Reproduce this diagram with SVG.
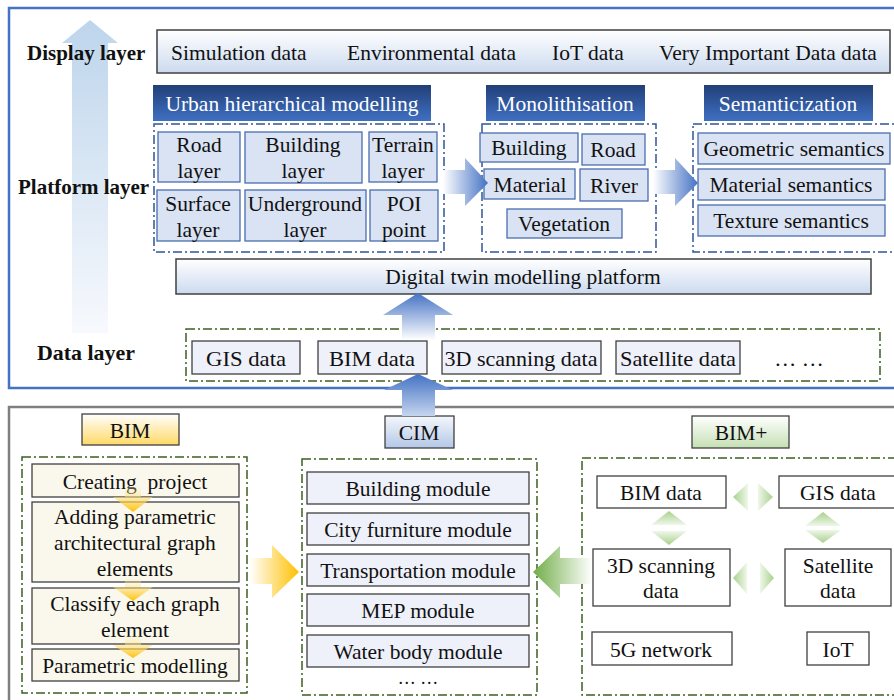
<svg xmlns="http://www.w3.org/2000/svg" width="894" height="700" viewBox="0 0 894 700">
  <defs>
    <linearGradient id="gBigUp" x1="0" y1="0" x2="0" y2="1">
      <stop offset="0" stop-color="#BDD5EC"/>
      <stop offset="1" stop-color="#F7F9FD"/>
    </linearGradient>
    <linearGradient id="gBar" x1="0" y1="0" x2="0" y2="1">
      <stop offset="0" stop-color="#FFFFFF"/>
      <stop offset="1" stop-color="#CCDAEF"/>
    </linearGradient>
    <linearGradient id="gBanner" x1="0" y1="0" x2="0" y2="1">
      <stop offset="0" stop-color="#213F78"/>
      <stop offset="1" stop-color="#4070C2"/>
    </linearGradient>
    <linearGradient id="gRight" x1="0" y1="0" x2="1" y2="0">
      <stop offset="0" stop-color="#FFFFFF"/>
      <stop offset="1" stop-color="#4472C4"/>
    </linearGradient>
    <linearGradient id="gUp" x1="0" y1="0" x2="0" y2="1">
      <stop offset="0" stop-color="#4472C4"/>
      <stop offset="1" stop-color="#FFFFFF"/>
    </linearGradient>
    <linearGradient id="gUp2" x1="0" y1="0" x2="0" y2="1">
      <stop offset="0" stop-color="#4472C4"/>
      <stop offset="1" stop-color="#C5D5EE"/>
    </linearGradient>
    <linearGradient id="gBim" x1="0" y1="0" x2="0" y2="1">
      <stop offset="0" stop-color="#FFFFFF"/>
      <stop offset="1" stop-color="#FFD966"/>
    </linearGradient>
    <linearGradient id="gCim" x1="0" y1="0" x2="0" y2="1">
      <stop offset="0" stop-color="#F4F7FC"/>
      <stop offset="1" stop-color="#B4C7E7"/>
    </linearGradient>
    <linearGradient id="gBimPlus" x1="0" y1="0" x2="0" y2="1">
      <stop offset="0" stop-color="#FFFFFF"/>
      <stop offset="1" stop-color="#C5E0B4"/>
    </linearGradient>
    <linearGradient id="gYellowRight" x1="0" y1="0" x2="1" y2="0">
      <stop offset="0" stop-color="#FFFFFF"/>
      <stop offset="1" stop-color="#FFC000"/>
    </linearGradient>
    <linearGradient id="gYellowDown" x1="0" y1="0" x2="0" y2="1">
      <stop offset="0" stop-color="#FFF2CC" stop-opacity="0.2"/>
      <stop offset="1" stop-color="#FFC000"/>
    </linearGradient>
    <linearGradient id="gGreenLeft" x1="0" y1="0" x2="1" y2="0">
      <stop offset="0" stop-color="#70AD47"/>
      <stop offset="1" stop-color="#FFFFFF"/>
    </linearGradient>
    <linearGradient id="gChevL" x1="0" y1="0" x2="1" y2="0">
      <stop offset="0" stop-color="#A9D18E"/>
      <stop offset="1" stop-color="#EFF7EA"/>
    </linearGradient>
    <linearGradient id="gChevR" x1="1" y1="0" x2="0" y2="0">
      <stop offset="0" stop-color="#A9D18E"/>
      <stop offset="1" stop-color="#EFF7EA"/>
    </linearGradient>
    <linearGradient id="gChevU" x1="0" y1="0" x2="0" y2="1">
      <stop offset="0" stop-color="#A9D18E"/>
      <stop offset="1" stop-color="#EFF7EA"/>
    </linearGradient>
    <linearGradient id="gChevD" x1="0" y1="1" x2="0" y2="0">
      <stop offset="0" stop-color="#A9D18E"/>
      <stop offset="1" stop-color="#EFF7EA"/>
    </linearGradient>
  </defs>
  <style>
    text { font-family: "Liberation Serif", "Times New Roman", serif; font-size: 21.5px; fill: #111; }
    .c { text-anchor: middle; }
    .lbl { font-weight: bold; font-size: 21px; }
    .ban { fill: #FFFFFF; }
    .bar { fill: url(#gBar); stroke: #404040; stroke-width: 1.5; }
    .bnr { fill: url(#gBanner); }
    .lb { fill: #DAE3F3; stroke: #4A6DB0; stroke-width: 1.3; }
    .dd { fill: #EEF0FA; stroke: #404040; stroke-width: 1.3; }
    .cr { fill: #FAF8EC; stroke: #404040; stroke-width: 1.3; }
    .wb { fill: #FFFFFF; stroke: #404040; stroke-width: 1.3; }
    .dashB { fill: none; stroke: #2F5597; stroke-width: 1.5; stroke-dasharray: 9 3 2 3; }
    .dashG { fill: none; stroke: #3B6020; stroke-width: 1.5; stroke-dasharray: 9 3 2 3; }
    .dt { font-size: 22px; }
    .more { font-size: 18px; }
  </style>

  <!-- outer frames -->
  <rect x="9" y="8" width="900" height="380" fill="#FFFFFF" stroke="#4472C4" stroke-width="2.5"/>
  <rect x="9" y="407" width="900" height="300" fill="#FFFFFF" stroke="#7F7F7F" stroke-width="2.5"/>

  <!-- layer direction arrow -->
  <polygon points="90,20 118,43 108,43 108,333 72,333 72,43 62,43" fill="url(#gBigUp)"/>

  <!-- layer titles -->
  <text class="lbl" x="27" y="60">Display layer</text>
  <text class="lbl" x="18" y="194">Platform layer</text>
  <text class="lbl" x="37" y="360" textLength="98" lengthAdjust="spacingAndGlyphs">Data layer</text>

  <!-- display layer -->
  <g id="display">
    <rect class="bar" x="157" y="30" width="733" height="43"/>
    <text x="171" y="60">Simulation data</text>
    <text x="347" y="60">Environmental data</text>
    <text x="552" y="60">IoT data</text>
    <text x="659" y="60">Very Important Data data</text>
  </g>

  <!-- platform layer: urban hierarchical modelling -->
  <g id="urban">
    <rect class="bnr" x="153" y="85" width="278" height="36"/>
    <text class="c ban" x="292" y="111">Urban hierarchical modelling</text>
    <rect class="dashB" x="154" y="124" width="290" height="128"/>
    <rect class="lb" x="158" y="132" width="82" height="50"/>
    <text class="c" x="199" y="152">Road</text><text class="c" x="199" y="178">layer</text>
    <rect class="lb" x="245" y="132" width="117" height="51"/>
    <text class="c" x="303" y="152">Building</text><text class="c" x="303" y="178">layer</text>
    <rect class="lb" x="369" y="132" width="68" height="50"/>
    <text class="c" x="403" y="152">Terrain</text><text class="c" x="403" y="178">layer</text>
    <rect class="lb" x="157" y="190" width="83" height="51"/>
    <text class="c" x="198" y="211">Surface</text><text class="c" x="198" y="237">layer</text>
    <rect class="lb" x="245" y="190" width="121" height="51"/>
    <text class="c" x="305" y="211">Underground</text><text class="c" x="305" y="237">layer</text>
    <rect class="lb" x="370" y="190" width="68" height="51"/>
    <text class="c" x="404" y="211">POI</text><text class="c" x="404" y="237">point</text>
  </g>

  <!-- platform layer: monolithisation -->
  <g id="mono">
    <rect class="bnr" x="486" y="85" width="159" height="36"/>
    <text class="c ban" x="565" y="111">Monolithisation</text>
    <rect class="dashB" x="482" y="124" width="174" height="128"/>
    <rect class="lb" x="480" y="133" width="98" height="29"/>
    <text class="c" x="529" y="155">Building</text>
    <rect class="lb" x="582" y="134" width="63" height="31"/>
    <text class="c" x="613" y="157">Road</text>
    <rect class="lb" x="484" y="169" width="91" height="30"/>
    <text class="c" x="530" y="192">Material</text>
    <rect class="lb" x="580" y="169" width="68" height="32"/>
    <text class="c" x="614" y="193">River</text>
    <rect class="lb" x="507" y="209" width="115" height="29"/>
    <text class="c" x="564" y="231">Vegetation</text>
  </g>

  <!-- platform layer: semanticization -->
  <g id="semantic">
    <rect class="bnr" x="704" y="85" width="169" height="36"/>
    <text class="c ban" x="788" y="111">Semanticization</text>
    <rect class="dashB" x="693" y="124" width="220" height="128"/>
    <rect class="lb" x="698" y="133" width="192" height="31"/>
    <text class="c" x="794" y="156">Geometric semantics</text>
    <rect class="lb" x="698" y="169" width="187" height="31"/>
    <text class="c" x="791" y="192">Material semantics</text>
    <rect class="lb" x="698" y="205" width="187" height="31"/>
    <text class="c" x="791" y="228">Texture semantics</text>
  </g>

  <!-- platform bar -->
  <g id="platform">
    <rect class="bar" x="176" y="259" width="695" height="35"/>
    <text class="c" x="523" y="284">Digital twin modelling platform</text>
  </g>

  <!-- data layer -->
  <g id="data">
    <rect class="dashG" x="186" y="329" width="694" height="52"/>
    <rect class="dd" x="192" y="341" width="108" height="33"/>
    <text class="c dt" x="246" y="366" textLength="80" lengthAdjust="spacingAndGlyphs">GIS data</text>
    <rect class="dd" x="318" y="341" width="109" height="33"/>
    <text class="c dt" x="372" y="366" textLength="86" lengthAdjust="spacingAndGlyphs">BIM data</text>
    <rect class="dd" x="442" y="341" width="159" height="33"/>
    <text class="c dt" x="521" y="366" textLength="153" lengthAdjust="spacingAndGlyphs">3D scanning data</text>
    <rect class="dd" x="616" y="341" width="124" height="33"/>
    <text class="c dt" x="678" y="366" textLength="116" lengthAdjust="spacingAndGlyphs">Satellite data</text>
    <text class="c dt" x="799" y="366">… …</text>
  </g>

  <!-- BIM block -->
  <g id="bim">
    <rect x="82" y="414" width="97" height="31" fill="url(#gBim)" stroke="#404040" stroke-width="1.3"/>
    <text class="c" x="130" y="438">BIM</text>
    <rect class="dashG" x="22" y="457" width="225" height="236"/>
    <rect class="cr" x="32" y="464" width="207" height="33"/>
    <text class="c" x="135" y="489" xml:space="preserve">Creating  project</text>
    <rect class="cr" x="32" y="502" width="207" height="80"/>
    <text class="c" x="135" y="524">Adding parametric</text>
    <text class="c" x="135" y="550">architectural graph</text>
    <text class="c" x="135" y="576">elements</text>
    <rect class="cr" x="32" y="588" width="207" height="56"/>
    <text class="c" x="135" y="611">Classify each graph</text>
    <text class="c" x="135" y="637">element</text>
    <rect class="cr" x="32" y="649" width="207" height="32"/>
    <text class="c" x="135" y="673">Parametric modelling</text>
  </g>

  <!-- CIM block -->
  <g id="cim">
    <rect x="385" y="416" width="69" height="32" fill="url(#gCim)" stroke="#404040" stroke-width="1.3"/>
    <text class="c" x="419" y="440">CIM</text>
    <rect class="dashG" x="302" y="459" width="235" height="236"/>
    <rect class="dd" x="307" y="472" width="222" height="32"/>
    <text class="c" x="418" y="496">Building module</text>
    <rect class="dd" x="307" y="513" width="222" height="32"/>
    <text class="c" x="418" y="537">City furniture module</text>
    <rect class="dd" x="307" y="554" width="222" height="32"/>
    <text class="c" x="418" y="578">Transportation module</text>
    <rect class="dd" x="307" y="594" width="222" height="32"/>
    <text class="c" x="418" y="618">MEP module</text>
    <rect class="dd" x="307" y="635" width="222" height="32"/>
    <text class="c" x="418" y="659">Water body module</text>
    <text class="c more" x="418" y="684">… …</text>
  </g>

  <!-- BIM+ block -->
  <g id="bimplus">
    <rect x="692" y="416" width="97" height="32" fill="url(#gBimPlus)" stroke="#404040" stroke-width="1.3"/>
    <text class="c" x="741" y="440">BIM+</text>
    <rect class="dashG" x="582" y="458" width="330" height="237"/>
    <rect class="wb" x="597" y="476" width="129" height="32"/>
    <text class="c" x="661" y="500">BIM data</text>
    <rect class="wb" x="779" y="476" width="130" height="32"/>
    <text class="c" x="838" y="500">GIS data</text>
    <rect class="wb" x="593" y="549" width="137" height="57"/>
    <text class="c" x="661" y="573">3D scanning</text>
    <text class="c" x="661" y="598">data</text>
    <rect class="wb" x="785" y="549" width="106" height="57"/>
    <text class="c" x="838" y="573">Satellite</text>
    <text class="c" x="838" y="598">data</text>
    <rect class="wb" x="592" y="632" width="140" height="33"/>
    <text class="c" x="661" y="657">5G network</text>
    <rect class="wb" x="807" y="632" width="62" height="33"/>
    <text class="c" x="838" y="657">IoT</text>
  </g>

  <!-- connectors -->
  <g id="connectors">
    <!-- platform flow -->
    <polygon points="443,170 465,170 465,158 488,183 465,206 465,194 443,194" fill="url(#gRight)"/>
    <polygon points="653,170 675,170 675,158 698,183 675,206 675,194 653,194" fill="url(#gRight)"/>
    <!-- data layer to platform -->
    <polygon points="418,293 453,315 435,315 435,340 402,340 402,315 383,315" fill="url(#gUp)"/>
    <!-- CIM to data layer -->
    <polygon points="418,374 453,390 435,390 435,416 402,416 402,390 384,390" fill="url(#gUp2)"/>
    <!-- BIM workflow steps -->
    <polygon points="125,486 141,486 141,497 153,497 133,512 113,497 125,497" fill="url(#gYellowDown)"/>
    <polygon points="125,578 141,578 141,587 153,587 133,601 113,587 125,587" fill="url(#gYellowDown)"/>
    <polygon points="125,636 141,636 141,645 153,645 133,658 113,645 125,645" fill="url(#gYellowDown)"/>
    <!-- BIM to CIM -->
    <polygon points="250,558 272,558 272,545 299,572 272,598 272,584 250,584" fill="url(#gYellowRight)"/>
    <!-- BIM+ to CIM -->
    <polygon points="533,572 560,546 560,558 592,558 592,584 560,584 560,598" fill="url(#gGreenLeft)"/>
    <!-- BIM+ data exchange -->
    <polygon points="733,497 748,483 748,511" fill="url(#gChevL)"/>
    <polygon points="773,497 758,483 758,511" fill="url(#gChevR)"/>
    <polygon points="733,578 747,562 747,594" fill="url(#gChevL)"/>
    <polygon points="774,578 760,562 760,594" fill="url(#gChevR)"/>
    <polygon points="669,511 687,525 651,525" fill="url(#gChevU)"/>
    <polygon points="669,545 687,531 651,531" fill="url(#gChevD)"/>
    <polygon points="823,512 841,526 805,526" fill="url(#gChevU)"/>
    <polygon points="823,543 841,530 805,530" fill="url(#gChevD)"/>
  </g>
</svg>
